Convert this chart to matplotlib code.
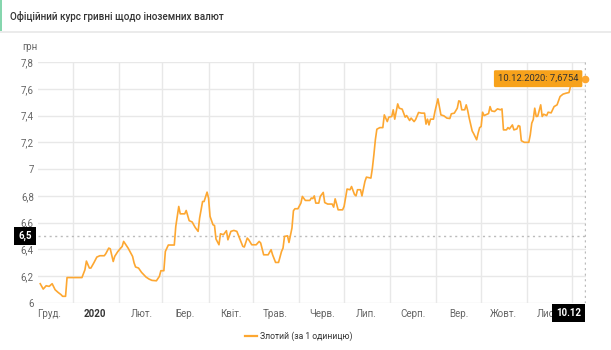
import matplotlib
matplotlib.use("Agg")
import matplotlib.pyplot as plt
import numpy as np
import pandas as pd
from matplotlib.lines import Line2D
from matplotlib.patches import Rectangle

# ---------------- data ----------------
title = "Офіційний курс гривні щодо іноземних валют"
unit_label = "грн"
series_name = "Злотий (за 1 одиницю)"

dates = [
    "2019-12-10", "2019-12-12", "2019-12-14", "2019-12-16", "2019-12-18", "2019-12-20",
    "2019-12-22", "2019-12-24", "2019-12-25", "2019-12-27", "2019-12-28",
    "2020-01-07", "2020-01-09", "2020-01-10", "2020-01-12", "2020-01-13", "2020-01-15",
    "2020-01-17", "2020-01-19", "2020-01-22", "2020-01-23", "2020-01-25", "2020-01-26",
    "2020-01-28", "2020-01-29", "2020-01-31",
    "2020-02-02", "2020-02-03", "2020-02-04", "2020-02-06", "2020-02-07", "2020-02-10",
    "2020-02-11", "2020-02-12", "2020-02-14", "2020-02-16", "2020-02-19", "2020-02-21",
    "2020-02-23", "2020-02-26", "2020-02-28", "2020-02-29",
    "2020-03-02", "2020-03-03", "2020-03-05", "2020-03-09", "2020-03-10", "2020-03-12",
    "2020-03-13", "2020-03-16", "2020-03-17", "2020-03-19", "2020-03-21", "2020-03-23",
    "2020-03-25", "2020-03-26", "2020-03-28", "2020-03-29", "2020-03-31",
    "2020-04-01", "2020-04-02", "2020-04-04", "2020-04-05", "2020-04-06", "2020-04-08",
    "2020-04-09", "2020-04-11", "2020-04-13", "2020-04-14", "2020-04-16", "2020-04-18",
    "2020-04-20", "2020-04-22", "2020-04-24", "2020-04-25", "2020-04-27", "2020-04-28",
    "2020-04-30",
    "2020-05-03", "2020-05-05", "2020-05-06", "2020-05-08", "2020-05-11", "2020-05-13",
    "2020-05-14", "2020-05-16", "2020-05-18", "2020-05-20", "2020-05-21", "2020-05-22",
    "2020-05-24", "2020-05-25", "2020-05-27", "2020-05-28", "2020-05-29", "2020-05-31",
    "2020-06-02", "2020-06-03", "2020-06-05", "2020-06-08", "2020-06-09", "2020-06-10",
    "2020-06-11", "2020-06-12", "2020-06-14", "2020-06-15", "2020-06-17", "2020-06-18",
    "2020-06-20", "2020-06-23", "2020-06-24", "2020-06-25", "2020-06-26", "2020-06-27",
    "2020-06-30",
    "2020-07-01", "2020-07-03", "2020-07-05", "2020-07-06", "2020-07-08", "2020-07-09",
    "2020-07-10", "2020-07-12", "2020-07-13", "2020-07-15", "2020-07-16", "2020-07-19",
    "2020-07-20", "2020-07-21", "2020-07-22", "2020-07-23", "2020-07-25", "2020-07-27",
    "2020-07-28", "2020-07-30", "2020-07-31",
    "2020-08-02", "2020-08-03", "2020-08-04", "2020-08-05", "2020-08-06", "2020-08-07",
    "2020-08-09", "2020-08-11", "2020-08-12", "2020-08-14", "2020-08-15", "2020-08-17",
    "2020-08-18", "2020-08-20", "2020-08-22", "2020-08-24", "2020-08-25", "2020-08-26",
    "2020-08-27", "2020-08-28", "2020-08-30", "2020-08-31",
    "2020-09-02", "2020-09-04", "2020-09-06", "2020-09-08", "2020-09-10", "2020-09-11",
    "2020-09-13", "2020-09-15", "2020-09-16", "2020-09-17", "2020-09-18", "2020-09-20",
    "2020-09-21", "2020-09-22", "2020-09-23", "2020-09-25", "2020-09-26", "2020-09-28",
    "2020-09-29", "2020-09-30",
    "2020-10-01", "2020-10-02", "2020-10-03", "2020-10-05", "2020-10-06", "2020-10-07",
    "2020-10-08", "2020-10-10", "2020-10-12", "2020-10-14", "2020-10-15", "2020-10-16",
    "2020-10-18", "2020-10-19", "2020-10-20", "2020-10-22", "2020-10-23", "2020-10-25",
    "2020-10-26", "2020-10-27", "2020-10-28", "2020-10-30",
    "2020-11-02", "2020-11-03", "2020-11-04", "2020-11-05", "2020-11-06", "2020-11-07",
    "2020-11-08", "2020-11-10", "2020-11-11", "2020-11-12", "2020-11-14", "2020-11-15",
    "2020-11-17", "2020-11-18", "2020-11-19", "2020-11-21", "2020-11-23", "2020-11-25",
    "2020-11-27", "2020-11-29", "2020-11-30",
    "2020-12-01", "2020-12-03", "2020-12-06", "2020-12-08", "2020-12-10",
]

values = [
    6.144, 6.104, 6.129, 6.124, 6.144, 6.099,
    6.079, 6.062, 6.050, 6.050, 6.190,
    6.190, 6.248, 6.313, 6.261, 6.261, 6.300,
    6.343, 6.353, 6.353, 6.368, 6.410, 6.405,
    6.310, 6.348, 6.383,
    6.410, 6.422, 6.460, 6.427, 6.410, 6.348,
    6.300, 6.269, 6.261, 6.229, 6.194, 6.179,
    6.169, 6.166, 6.199, 6.241,
    6.241, 6.385, 6.433, 6.433, 6.572, 6.721,
    6.666, 6.666, 6.691, 6.615, 6.605, 6.565,
    6.535, 6.634, 6.758, 6.758, 6.828,
    6.784, 6.647, 6.584, 6.579, 6.478, 6.435,
    6.517, 6.510, 6.540, 6.472, 6.535, 6.542,
    6.535, 6.478, 6.423, 6.418, 6.485, 6.472,
    6.435,
    6.435, 6.460, 6.448, 6.360, 6.360, 6.398,
    6.360, 6.303, 6.303, 6.385, 6.410, 6.497,
    6.502, 6.452, 6.560, 6.689, 6.704, 6.704,
    6.746, 6.796, 6.766, 6.766, 6.784, 6.780,
    6.800, 6.746, 6.746, 6.796, 6.826, 6.750,
    6.739, 6.739, 6.716, 6.778, 6.739, 6.696,
    6.696,
    6.721, 6.851, 6.846, 6.870, 6.810, 6.800,
    6.846, 6.846, 6.800, 6.908, 6.940, 6.933,
    7.007, 7.107, 7.219, 7.298, 7.310, 7.310,
    7.405, 7.355, 7.388,
    7.393, 7.443, 7.373, 7.430, 7.487, 7.455,
    7.448, 7.388, 7.400, 7.363, 7.381, 7.355,
    7.370, 7.423, 7.418, 7.418, 7.336, 7.373,
    7.330, 7.373, 7.373, 7.430,
    7.525, 7.405, 7.398, 7.381, 7.378, 7.413,
    7.418, 7.455, 7.510, 7.505, 7.443, 7.443,
    7.480, 7.437, 7.381, 7.285, 7.265, 7.219,
    7.269, 7.310,
    7.318, 7.425, 7.400, 7.410, 7.415, 7.467,
    7.435, 7.430, 7.450, 7.443, 7.450, 7.293,
    7.293, 7.310, 7.300, 7.330, 7.293, 7.300,
    7.325, 7.320, 7.212, 7.200,
    7.200, 7.256, 7.343, 7.370, 7.455, 7.393,
    7.395, 7.480, 7.393, 7.410, 7.400, 7.425,
    7.420, 7.443, 7.467, 7.480, 7.542, 7.560,
    7.567, 7.572, 7.617,
    7.655, 7.660, 7.662, 7.668, 7.6754,
]

month_labels = ["Груд.", "2020", "Лют.", "Бер.", "Квіт.", "Трав.", "Черв.",
                "Лип.", "Серп.", "Вер.", "Жовт.", "Лист."]
y_ticks = [6.0, 6.2, 6.4, 6.6, 6.8, 7.0, 7.2, 7.4, 7.6, 7.8]
crosshair_value = 6.5

# ---------------- style ----------------
ORANGE = "#fda731"
TOOLTIP = "#f7a21b"
GRID = "#e8e8e8"
LABEL = "#666666"
DARK = "#333333"

plt.rcParams["font.family"] = ["Roboto", "DejaVu Sans"]

W, H = 611, 350
fig = plt.figure(figsize=(W / 100, H / 100), dpi=100)
fig.patch.set_facecolor("white")


def fx(px):
    return px / W


def fy(py):
    return 1 - py / H


ax = fig.add_axes([fx(38), fy(303), fx(586) - fx(38), (303 - 62) / H])

d = pd.to_datetime(dates)
v = np.array(values)

ax.plot(d, v, color=ORANGE, lw=1.2, solid_joinstyle="round", zorder=3)

ax.set_xlim(d[0] - pd.Timedelta(hours=36), d[-1] + pd.Timedelta(hours=10))
ax.set_ylim(y_ticks[0], y_ticks[-1])

# grid: month starts
first_month = d[0].to_period("M").to_timestamp()
month_starts = pd.date_range(first_month + pd.offsets.MonthBegin(1), d[-1], freq="MS")
ax.set_xticks(month_starts, minor=True)
ax.xaxis.grid(True, which="minor", color=GRID, lw=1)
ax.xaxis.grid(False, which="major")

label_pos = (pd.date_range(first_month, periods=len(month_labels), freq="MS")
             + pd.Timedelta(days=15))
ax.set_xticks(label_pos)
ax.set_xticklabels(month_labels)
for t, lab in zip(ax.get_xticklabels(), month_labels):
    t.set_color(LABEL)
    t.set_fontsize(7.0)
    if lab.isdigit():
        t.set_fontweight("bold")
        t.set_color(DARK)
ax.tick_params(axis="x", which="both", length=0, pad=4)


def fmt(val):
    s = f"{val:.1f}"
    if s.endswith(".0"):
        s = s[:-2]
    return s.replace(".", ",")


ax.set_yticks(y_ticks)
ax.set_yticklabels([fmt(t) for t in y_ticks], color=LABEL, fontsize=7.0)
ax.tick_params(axis="y", length=0, pad=3)
ax.yaxis.grid(True, color=GRID, lw=1)
ax.set_axisbelow(True)
for s in ax.spines.values():
    s.set_visible(False)

# crosshair lines
ax.axhline(crosshair_value, color="#bbbbbb", lw=1, ls=(0, (1.5, 2.5)), zorder=2)
ax.axvline(d[-1], color="#bbbbbb", lw=1, ls=(0, (1.5, 2.5)), zorder=2)

# crosshair labels
ax.annotate(fmt(crosshair_value), xy=(0, crosshair_value), xycoords=("axes fraction", "data"),
            xytext=(-6, 0), textcoords="offset pixels", ha="right", va="center",
            color="white", fontsize=7.0, fontweight="bold",
            bbox=dict(boxstyle="square,pad=0.42", fc="black", ec="none"), zorder=6,
            annotation_clip=False)
ax.annotate(d[-1].strftime("%d.%m"), xy=(d[-1], 0), xycoords=("data", "axes fraction"),
            xytext=(-17, -10), textcoords="offset pixels", ha="center", va="center",
            color="white", fontsize=7.0, fontweight="bold",
            bbox=dict(boxstyle="square,pad=0.42", fc="black", ec="none"), zorder=6,
            annotation_clip=False)

# last point + tooltip
ax.plot([d[-1]], [v[-1]], "o", ms=4.5, mfc=ORANGE, mec=ORANGE, zorder=5, clip_on=False)
tip = f"{d[-1].strftime('%d.%m.%Y')}: {str(values[-1]).replace('.', ',')}"
ax.annotate(tip, xy=(d[-1], v[-1]), xytext=(-7, 0), textcoords="offset pixels",
            ha="right", va="center", color=DARK, fontsize=6.8,
            bbox=dict(boxstyle="round,pad=0.42,rounding_size=0.15", fc=TOOLTIP, ec="none"),
            zorder=7, annotation_clip=False)

# unit label
fig.text(fx(22), fy(47), unit_label, ha="left", va="center", color=LABEL, fontsize=7.0)

# header
fig.text(fx(10), fy(16), title, ha="left", va="center", color=DARK, fontsize=7.1,
         fontweight="medium")
fig.add_artist(Rectangle((0, fy(31)), fx(2), 31 / H, transform=fig.transFigure,
                         color="#86d6ae", lw=0))
fig.add_artist(Rectangle((0, fy(33)), 1, 2 / H, transform=fig.transFigure,
                         color="#ebebeb", lw=0))

# legend
fig.add_artist(Line2D([fx(245), fx(257)], [fy(336), fy(336)], color=ORANGE, lw=1.6,
                      transform=fig.transFigure))
fig.text(fx(260), fy(336), series_name, ha="left", va="center", color=DARK, fontsize=6.2)

fig.savefig("out.png", dpi=100)
